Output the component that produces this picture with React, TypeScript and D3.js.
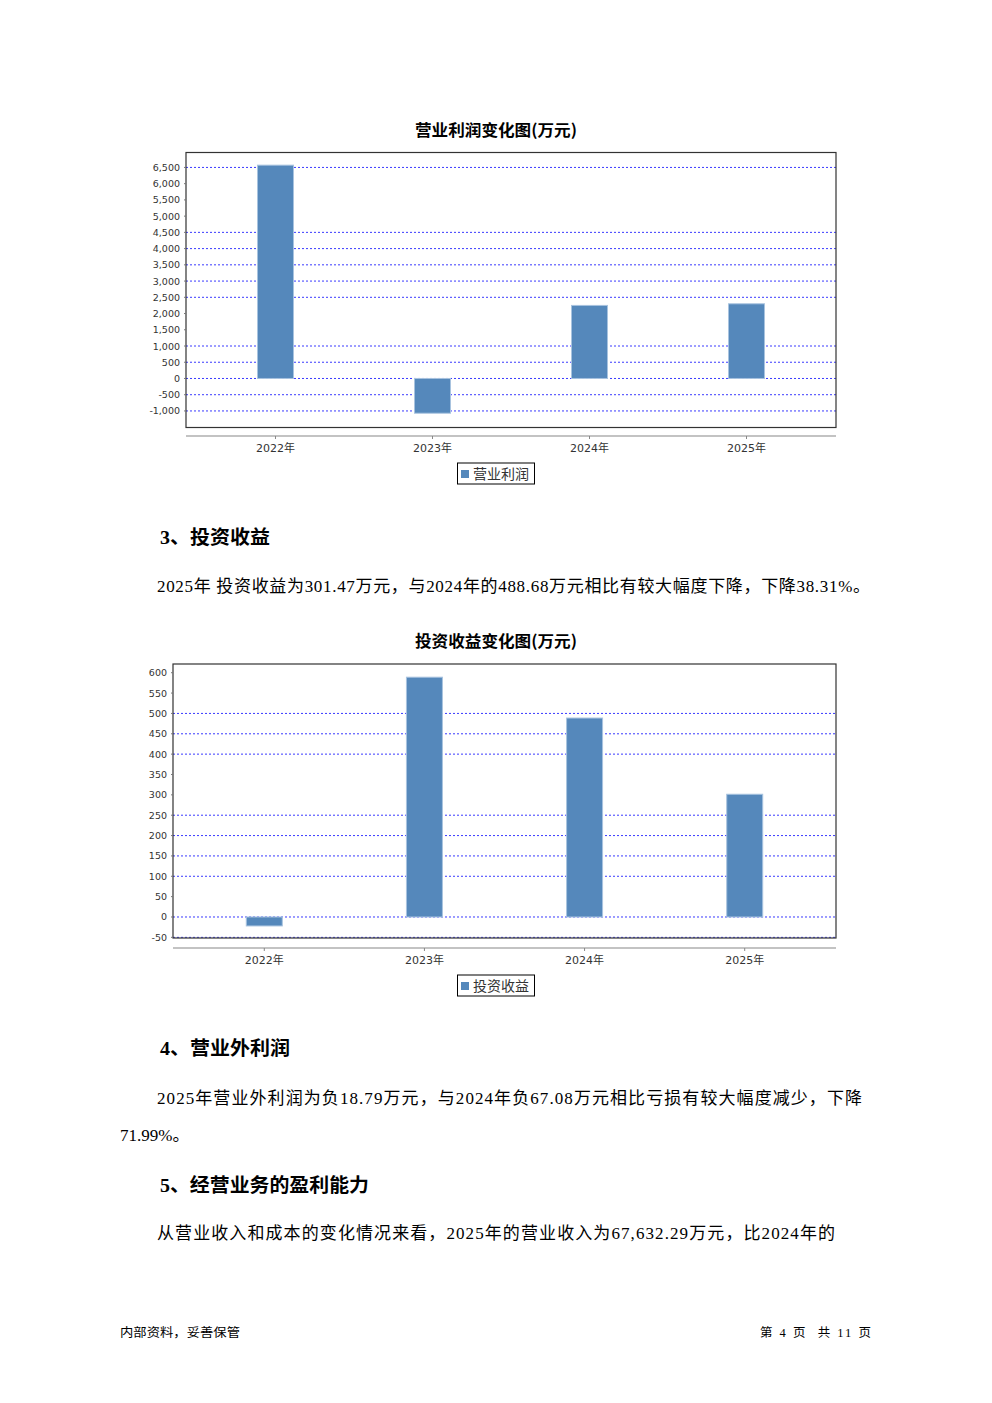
import React from "react";
import * as d3 from "d3";

const years = ["2022年", "2023年", "2024年", "2025年"];

const profitValues = [6570, -1070, 2250, 2300];
const profitTicks = [6500, 6000, 5500, 5000, 4500, 4000, 3500, 3000, 2500, 2000, 1500, 1000, 500, 0, -500, -1000];
const profitGrid = [6500, 4500, 4000, 3500, 3000, 2500, 1000, 500, 0, -500, -1000];

const investValues = [-22, 589, 488.68, 301.47];
const investTicks = [600, 550, 500, 450, 400, 350, 300, 250, 200, 150, 100, 50, 0, -50];
const investGrid = [500, 450, 400, 250, 200, 150, 100, 0, -50];

const fmt = (v: number) => d3.format(",")(v).replace("\u2212", "-");

const BAR = "#5588bb";
const SANS = "'DejaVu Sans', 'Noto Sans CJK SC', sans-serif";
const CJK = "'Noto Sans CJK SC', sans-serif";
const SERIF = "'Liberation Serif', 'Noto Sans CJK SC', serif";

type ChartProps = {
  title: string;
  titleY: number;
  x0: number;
  x1: number;
  y0: number;
  y1: number;
  domain: [number, number];
  axisY: number;
  legendY: number;
  legend: string;
  values: number[];
  ticks: number[];
  grid: number[];
};

function Chart(p: ChartProps) {
  const x = d3.scalePoint<string>().domain(years).range([p.x0, p.x1]).padding(0.57);
  const y = d3.scaleLinear().domain(p.domain).range([p.y1, p.y0]);
  const bw = 36;
  return (
    <g>
      <text x={496} y={p.titleY + 5.5} textAnchor="middle" fontFamily={CJK} fontWeight="bold" fontSize={16} textLength={162} lengthAdjust="spacingAndGlyphs" fill="#000">
        {p.title}
      </text>
      <rect x={p.x0} y={p.y0} width={p.x1 - p.x0} height={p.y1 - p.y0} fill="#fff" />
      {p.grid.map((g) => (
        <line key={"g" + g} x1={p.x0} x2={p.x1} y1={y(g)} y2={y(g)} stroke="#3a3aff" strokeWidth={1} strokeDasharray="2,2" />
      ))}
      {p.values.map((v, i) => {
        const cx = x(years[i])!;
        const top = y(Math.max(0, v));
        const bot = y(Math.min(0, v));
        return (
          <rect key={"b" + i} x={cx - bw / 2} y={top} width={bw} height={bot - top} fill={BAR} stroke="#a8c3df" strokeWidth={1} />
        );
      })}
      <rect x={p.x0} y={p.y0} width={p.x1 - p.x0} height={p.y1 - p.y0} fill="none" stroke="#333" strokeWidth={1.2} />
      {p.ticks.map((t) => (
        <g key={"t" + t}>
          <line x1={p.x0 - 2} x2={p.x0} y1={y(t)} y2={y(t)} stroke="#777" />
          <text x={p.x0 - 6} y={y(t) + 3.5} textAnchor="end" fontFamily={SANS} fontSize={9.5} fill="#333">
            {fmt(t)}
          </text>
        </g>
      ))}
      <line x1={p.x0} x2={p.x1} y1={p.axisY} y2={p.axisY} stroke="#888" strokeWidth={1.2} />
      {years.map((yr) => (
        <g key={"x" + yr}>
          <line x1={x(yr)} x2={x(yr)} y1={p.axisY} y2={p.axisY + 3} stroke="#888" />
          <text x={x(yr)} y={p.axisY + 16} textAnchor="middle" fontFamily={SANS} fontSize={11} fill="#333">
            {yr}
          </text>
        </g>
      ))}
      <rect x={457.5} y={p.legendY} width={77} height={21} fill="#fff" stroke="#000" strokeWidth={1} />
      <rect x={461} y={p.legendY + 7} width={8} height={8} fill={BAR} />
      <text x={473} y={p.legendY + 16} fontFamily={CJK} fontSize={14} fill="#333">
        {p.legend}
      </text>
    </g>
  );
}

export default function App() {
  return (
    <svg width={992} height={1403} style={{ position: "absolute", left: 0, top: 0, background: "#fff" }}>
      <rect width={992} height={1403} fill="#fff" />
      <Chart
        title="营业利润变化图(万元)"
        titleY={130}
        x0={186}
        x1={836}
        y0={152.5}
        y1={427.5}
        domain={[-1510, 6960]}
        axisY={436}
        legendY={463}
        legend="营业利润"
        values={profitValues}
        ticks={profitTicks}
        grid={profitGrid}
      />
      <text x={160} y={544} fontFamily={SERIF} fontWeight="bold" fontSize={19} textLength={110} lengthAdjust="spacingAndGlyphs">
        3、投资收益
      </text>
      <text x={157} y={592} fontFamily={SERIF} fontSize={17} textLength={713} lengthAdjust="spacing">
        2025年 投资收益为301.47万元，与2024年的488.68万元相比有较大幅度下降，下降38.31%。
      </text>
      <Chart
        title="投资收益变化图(万元)"
        titleY={641}
        x0={173}
        x1={836}
        y0={664}
        y1={938}
        domain={[-51.6, 621.4]}
        axisY={948}
        legendY={975}
        legend="投资收益"
        values={investValues}
        ticks={investTicks}
        grid={investGrid}
      />
      <text x={160} y={1055} fontFamily={SERIF} fontWeight="bold" fontSize={19} textLength={130} lengthAdjust="spacingAndGlyphs">
        4、营业外利润
      </text>
      <text x={157} y={1104} fontFamily={SERIF} fontSize={17} textLength={705} lengthAdjust="spacing">
        2025年营业外利润为负18.79万元，与2024年负67.08万元相比亏损有较大幅度减少，下降
      </text>
      <text x={120} y={1141} fontFamily={SERIF} fontSize={17}>
        71.99%。
      </text>
      <text x={160} y={1192} fontFamily={SERIF} fontWeight="bold" fontSize={19} textLength={209} lengthAdjust="spacingAndGlyphs">
        5、经营业务的盈利能力
      </text>
      <text x={157} y={1239} fontFamily={SERIF} fontSize={17} textLength={678} lengthAdjust="spacing">
        从营业收入和成本的变化情况来看，2025年的营业收入为67,632.29万元，比2024年的
      </text>
      <text x={120} y={1337} fontFamily={SERIF} fontSize={12.5} textLength={120} lengthAdjust="spacingAndGlyphs">
        内部资料，妥善保管
      </text>
      <text x={760} y={1337} fontFamily={SERIF} fontSize={12.5} textLength={111} lengthAdjust="spacing" xmlSpace="preserve">
        第 4 页  共 11 页
      </text>
    </svg>
  );
}
